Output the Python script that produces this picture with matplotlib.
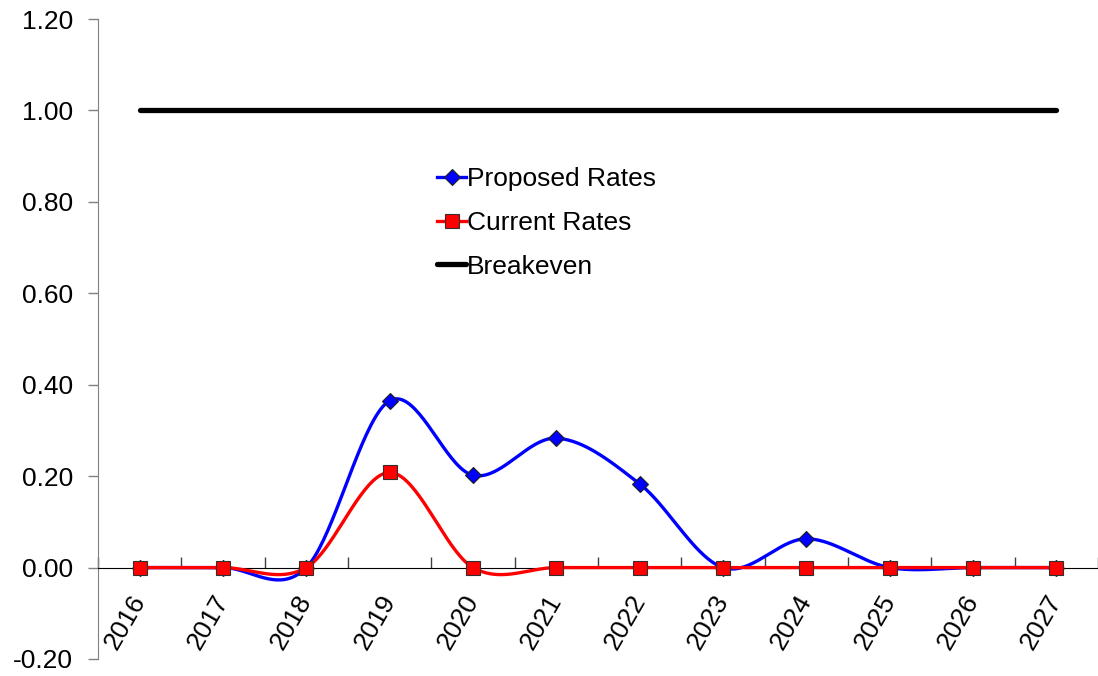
import numpy as np
import matplotlib.pyplot as plt
from matplotlib.lines import Line2D

plt.rcParams['font.family'] = ['Liberation Sans', 'DejaVu Sans']

years = ['2016', '2017', '2018', '2019', '2020', '2021', '2022', '2023', '2024', '2025', '2026', '2027']
proposed = [0.0, 0.0, 0.0, 0.365, 0.202, 0.283, 0.183, 0.0, 0.063, 0.0, 0.0, 0.0]
current = [0.0, 0.0, 0.0, 0.208, 0.0, 0.0, 0.0, 0.0, 0.0, 0.0, 0.0, 0.0]
breakeven = [1.0] * len(years)


def smooth(x, y, n=40):
    # cubic bezier through every point, tangents from the neighbours (1/6 tension)
    x = np.asarray(x, dtype=float)
    y = np.asarray(y, dtype=float)
    px = np.concatenate([[x[0]], x, [x[-1]]])
    py = np.concatenate([[y[0]], y, [y[-1]]])
    t = np.linspace(0, 1, n)[:, None]
    xs, ys = [], []
    for i in range(len(x) - 1):
        p0 = np.array([px[i + 1], py[i + 1]])
        p3 = np.array([px[i + 2], py[i + 2]])
        p1 = p0 + (p3 - np.array([px[i], py[i]])) / 6.0
        p2 = p3 - (np.array([px[i + 3], py[i + 3]]) - p0) / 6.0
        b = (1 - t) ** 3 * p0 + 3 * (1 - t) ** 2 * t * p1 + 3 * (1 - t) * t ** 2 * p2 + t ** 3 * p3
        xs.append(b[:, 0])
        ys.append(b[:, 1])
    return np.concatenate(xs), np.concatenate(ys)


fs = 19

fig = plt.figure(figsize=(10.98, 6.76), dpi=100)
ax = fig.add_axes([98 / 1098, 1 - 659 / 676, 1 - 98 / 1098, 640 / 676])

# move the x axis to y=0 first, this resets the tick objects
ax.spines['top'].set_visible(False)
ax.spines['right'].set_visible(False)
ax.spines['left'].set_color('#808080')
ax.spines['bottom'].set_position(('data', 0))
ax.spines['bottom'].set_color('black')

xpos = np.arange(len(years))

sx, sy = smooth(xpos, proposed)
ax.plot(sx, sy, color='#0000FF', lw=2.4, zorder=3)
ax.plot(xpos, proposed, ls='none', marker='D', ms=8.5, mfc='#0000FF', mec='#202020', mew=0.8, zorder=4)

sx, sy = smooth(xpos, current)
ax.plot(sx, sy, color='#FF0000', lw=2.4, zorder=5)
ax.plot(xpos, current, ls='none', marker='s', ms=10.5, mfc='#FF0000', mec='#303030', mew=0.8, zorder=6)

ax.plot(xpos, breakeven, color='black', lw=3.8, solid_capstyle='round', zorder=7)

ax.set_xlim(-0.5, len(years) - 0.5)
ax.set_ylim(-0.2, 1.2)
yt = np.arange(-0.2, 1.21, 0.2)
ax.set_yticks(yt)
ax.set_yticklabels([f'{v:.2f}' for v in yt], fontsize=fs)
ax.tick_params(axis='y', direction='out', length=7, width=1, color='#808080', pad=11)

ax.set_xticks(xpos)
ax.set_xticklabels(years, fontsize=fs, rotation=60, ha='right', va='center', rotation_mode='anchor')
ax.tick_params(axis='x', which='major', length=0, pad=21)
ax.set_xticks(np.arange(-0.5, len(years), 1.0), minor=True)
ax.tick_params(axis='x', which='minor', direction='in', length=8, width=1, color='#404040')

handles = [
    Line2D([], [], color='#0000FF', lw=2.4, marker='D', ms=8.5, mfc='#0000FF', mec='#202020', mew=0.8),
    Line2D([], [], color='#FF0000', lw=2.4, marker='s', ms=10, mfc='#FF0000', mec='#303030', mew=0.8),
    Line2D([], [], color='black', lw=3.8, solid_capstyle='round'),
]
ax.legend(handles, ['Proposed Rates', 'Current Rates', 'Breakeven'], loc='upper left',
          bbox_to_anchor=(437 / 1098, 1 - 167 / 676), bbox_transform=fig.transFigure,
          frameon=False, fontsize=fs, handlelength=1.1, handletextpad=0.05,
          borderpad=0, borderaxespad=0, labelspacing=0.75, numpoints=1)

fig.savefig('out.png', dpi=100)
